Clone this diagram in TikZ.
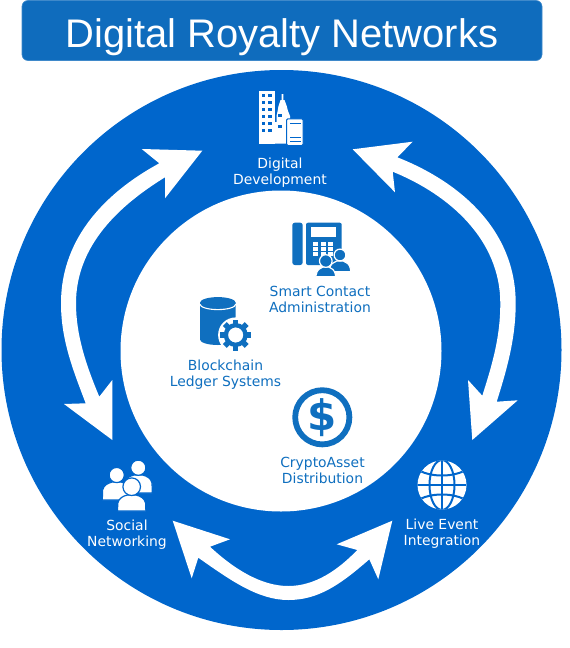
\documentclass[tikz,border=0pt]{standalone}
\usepackage{fontspec}
\setmainfont{DejaVu Sans}
\newfontfamily\titlefont{Liberation Sans}
\newfontfamily\boldglyph{DejaVu Sans Bold}
\definecolor{ringblue}{HTML}{0066CC}
\definecolor{barblue}{HTML}{0F6CBD}
\definecolor{iconblue}{HTML}{0F6FBF}
\tikzset{
  lbl/.style={align=center,font=\fontsize{13.9}{16}\selectfont,inner sep=0pt},
  whitelbl/.style={lbl,text=white},
  bluelbl/.style={lbl,text=iconblue},
}
% person: fill colour, outline colour, cx, head cy, head r, half width, shoulder y, bottom y
\newcommand{\prsn}[8]{
  \fill[#1,draw=#2,line width=1.2pt] (#3-#6,#8) -- (#3-#6*0.98,#7+6) .. controls (#3-#6*0.9,#7+1) and (#3-#6*0.6,#7-1) .. (#3-#6*0.3,#7-2)
     -- (#3+#6*0.3,#7-2) .. controls (#3+#6*0.6,#7-1) and (#3+#6*0.9,#7+1) .. (#3+#6*0.98,#7+6) -- (#3+#6,#8) -- cycle;
  \fill[#1,draw=#2,line width=1.2pt] (#3,#4) circle (#5+0.6);
}
\begin{document}
\begin{tikzpicture}[x=1pt,y=-1pt]
\useasboundingbox (0,0) rectangle (570,648);
% rings
\fill[ringblue] (281.5,350) circle (280);
\fill[white] (281,351) circle (160.5);
% title
\node[draw=barblue!80!white,fill=barblue,rounded corners=6pt,minimum width=520pt,minimum height=60pt,inner sep=0pt,line width=.6pt,
  text=white,text height=33pt,text depth=0pt,font=\titlefont\fontsize{39.9}{44}\selectfont] (title) at (282,30.5) {Digital Royalty Networks};
% left arrow
\fill[white] (202.3,150.7) -- (141.7,149) -- (159.3,163.3)
  .. controls (110,190) and (61,235) .. (61,303.3) .. controls (61,340) and (73,370) .. (85.7,403.3)
  -- (64,404) -- (112.3,440) -- (112.3,380) -- (99.3,396.7)
  .. controls (86,365) and (76,335) .. (76,303.3) .. controls (76,245) and (120,205) .. (165,177.3)
  -- (165,198.3) -- cycle;
% right arrow
\fill[white] (352.7,149.3) -- (412.7,141.7) -- (397.3,157.3)
  .. controls (460,182) and (515.7,230) .. (515.7,303.3) .. controls (515.7,340) and (506,372) .. (496.7,401.7)
  -- (517.7,400.3) -- (472.3,440) -- (468,380) -- (482.3,395.7)
  .. controls (492,365) and (500.3,338) .. (500.3,303.3) .. controls (500.3,240) and (450,195) .. (392.7,171.7)
  -- (395,192.3) -- cycle;
% bottom arrow
\fill[white] (172.7,520.7) -- (230,539.3) -- (210,546.7)
  .. controls (235,570) and (262,586) .. (288.3,586) .. controls (315,586) and (338,570) .. (357.3,550)
  -- (336.7,544.3) -- (392.3,520.7) -- (378.3,579.3) -- (369.3,559.3)
  .. controls (340,585) and (318,600) .. (288.3,600) .. controls (258,600) and (230,580) .. (198.3,557.7)
  -- (191.7,578.3) -- cycle;
% building icon
\fill[white] (258.5,90.5) rectangle (275,143.5);
\foreach \r in {0,...,5}{
  \foreach \c in {0,1}{ \fill[ringblue] (261.7+\c*6.7,94+\r*7) rectangle ++(3.4,3.4); }
}
\fill[white] (275,143.5) -- (275,122) -- (276.7,122) -- (276.7,115) -- (277.5,111.7) -- (278.5,106) -- (280.5,100) -- (281.7,100) -- (281.7,94) -- (283.4,94) -- (283.4,100) -- (284.5,100) -- (286.7,106) -- (288,111) -- (290,116) -- (290,127) -- (287,127) -- (287,143.5) -- cycle;
\fill[ringblue] (278.3,114) rectangle ++(3.4,3.4);
\fill[ringblue] (278.3,125) rectangle ++(3.4,3.4);
\fill[white,draw=ringblue,line width=1pt,rounded corners=1.2pt] (286.7,118.8) rectangle (303,145.5);
\fill[ringblue] (289.5,122.8) rectangle (300.5,124);
\fill[ringblue] (289.5,136.5) rectangle (300.5,137.7);
\fill[ringblue] (289.5,140.5) rectangle (300.5,141.7);
% phone icon
\fill[iconblue,rounded corners=2.5pt] (292.3,222.7) rectangle (302.7,265);
\fill[iconblue,rounded corners=2pt] (306,222.7) rectangle (341.7,265);
\fill[white] (311,227.3) rectangle (335.7,236.7);
\foreach \r in {0,1,2}{
  \foreach \c in {0,1,2}{ \fill[white] (313.3+\c*7.5,242.3+\r*5) rectangle ++(5,3.2); }
}
\prsn{iconblue}{white}{340}{255}{5.3}{10.7}{263}{271.7}
\prsn{iconblue}{white}{325.8}{261}{5.7}{9.9}{269}{276.7}
% cylinder + gear
\fill[iconblue] (200,302.7) -- (200,339.5) arc[start angle=180,end angle=0,x radius=17.85,y radius=5.5] -- (235.7,302.7) -- cycle;
\fill[iconblue] (217.85,302.7) ellipse (17.85 and 5.6);
\draw[white,line width=1.1pt] (200,304.2) arc[start angle=180,end angle=0,x radius=17.85,y radius=5.4];
\fill[white] (235.7,335) circle (17.6);
\foreach \a in {0,45,...,315}{
  \fill[white,rotate around={\a:(235.7,335)}] (231,318) rectangle (240.4,324);
}
\foreach \a in {0,45,...,315}{
  \fill[iconblue,rotate around={\a:(235.7,335)}] (233,319.5) rectangle (238.4,326);
}
\fill[iconblue,even odd rule] (235.7,335) circle (12) (235.7,335) circle (7.6);
% dollar coin
\draw[iconblue,line width=5.8pt] (322.3,417.3) circle (27.1);
\node[font=\boldglyph\fontsize{42}{42}\selectfont,text=iconblue,inner sep=0pt] (dollar) at (322.3,417.3) {\$};
% people icon
\prsn{white}{ringblue}{138.3}{467.7}{7}{14}{477}{493}
\prsn{white}{ringblue}{116.7}{475}{7}{14.4}{484}{500}
\prsn{white}{ringblue}{131.7}{486.7}{8.2}{14.2}{497}{511}
% globe
\fill[white] (442,485) circle (24.5);
\begin{scope}
\clip (442,485) circle (24.5);
\draw[ringblue,line width=2pt] (442,460) -- (442,510);
\draw[ringblue,line width=2pt] (442,485) ellipse (12.5 and 25);
\draw[ringblue,line width=2pt] (417,485) -- (467,485);
\draw[ringblue,line width=2pt] (420,471) .. controls (432,477) and (452,477) .. (464,471);
\draw[ringblue,line width=2pt] (420,499) .. controls (432,493) and (452,493) .. (464,499);
\end{scope}
% labels
\node[whitelbl] (dev) at (280,173) {Digital\\Development};
\node[bluelbl] (smart) at (320,299) {Smart Contact\\Administration};
\node[bluelbl] (chain) at (225.5,375) {Blockchain\\Ledger Systems};
\node[bluelbl] (crypto) at (322.5,470) {CryptoAsset\\Distribution};
\node[whitelbl] (social) at (127,535) {Social\\Networking};
\node[whitelbl] (live) at (442,534) {Live Event\\Integration};
\end{tikzpicture}
\end{document}
